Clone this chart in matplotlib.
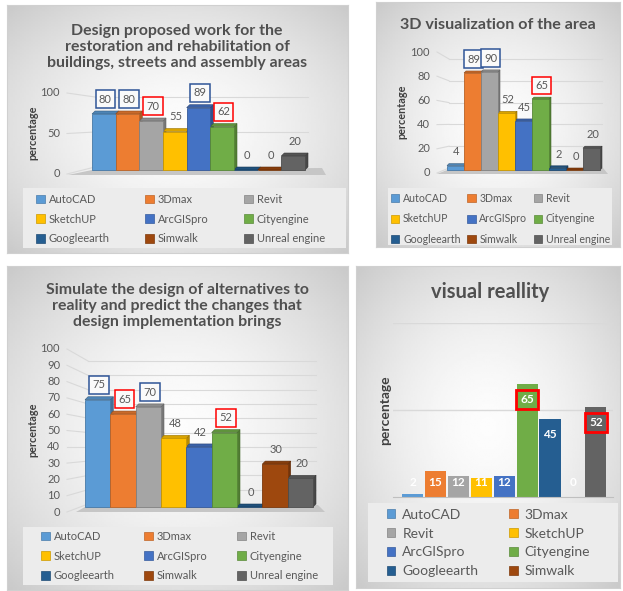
import numpy as np
import matplotlib

matplotlib.use("Agg")
import matplotlib.pyplot as plt
from matplotlib.colors import to_rgb
from matplotlib.patches import Patch, Polygon, Rectangle

plt.rcParams["font.family"] = ["Lato", "DejaVu Sans"]

W, H = 623, 591

TOOLS = ["AutoCAD", "3Dmax", "Revit", "SketchUP", "ArcGISpro", "Cityengine",
         "Googleearth", "Simwalk", "Unreal engine"]
COLORS = ["#5B9BD5", "#ED7D31", "#A5A5A5", "#FFC000", "#4472C4", "#70AD47",
          "#255E91", "#9E480E", "#636363"]

# panel 1: design proposed work
design_vals = [80, 80, 70, 55, 89, 62, 0, 0, 20]
design_blue = [0, 1, 4]
design_red = [2, 5]

# panel 2: 3D visualization
area3d_vals = [4, 89, 90, 52, 45, 65, 2, 0, 20]
area3d_blue = [1, 2]
area3d_red = [5]

# panel 3: simulate alternatives
simulate_vals = [75, 65, 70, 48, 42, 52, 0, 30, 20]
simulate_blue = [0, 2]
simulate_red = [1, 5]

# panel 4: visual reality
reality_vals = [2, 15, 12, 11, 12, 65, 45, 0, 52]
reality_red = [5, 8]

TEXT = "#595959"
TITLE = "#505050"
GRID = "#d9d9d9"
BOX_BLUE = "#2f5597"
BOX_RED = "#ff0000"

fig = plt.figure(figsize=(W / 100, H / 100), dpi=100)


def rect(x0, y0, x1, y1):
    return [x0 / W, 1 - y1 / H, (x1 - x0) / W, (y1 - y0) / H]


def fx(x):
    return x / W


def fy(y):
    return 1 - y / H


def panel(x0, y0, x1, y1):
    bg = fig.add_axes(rect(x0, y0, x1, y1), zorder=0)
    yy, xx = np.mgrid[-1:1:150j, -1:1:150j]
    r = np.hypot(xx, yy) / np.sqrt(2)
    bg.imshow(0.99 - 0.2 * r ** 1.6, cmap="gray", vmin=0, vmax=1,
              extent=[0, 1, 0, 1], aspect="auto", interpolation="bilinear")
    bg.set_xticks([])
    bg.set_yticks([])
    for s in bg.spines.values():
        s.set_color("#d0d0d0")
        s.set_linewidth(0.8)


def chart3d(ax_px, vals, blue, red, ticks, front, lab_x, floor_px, depth=(3, 3)):
    x0, y0, x1, y1 = ax_px
    ax = fig.add_axes(rect(*ax_px), zorder=2)
    ax.set_xlim(-0.5, 8.5)
    ax.set_ylim(0, 100)
    ax.set_axis_off()
    dx = depth[0] / ((x1 - x0) / 9.0)
    dy = depth[1] / ((y1 - y0) / 100.0)
    inv = ax.transData.inverted()

    def d(px, py):
        return inv.transform((px, H - py))

    ax.add_patch(Polygon([d(*p) for p in floor_px], closed=True, fc="#c6c6c6",
                         ec="none", zorder=1, clip_on=False))

    # back-wall grid and the side-wall lines running out to the tick labels
    gx0, gx1 = -0.5 + dx, 8.5 + dx
    for t in ticks:
        if t > 0:
            ax.plot([gx0, gx1], [t + dy, t + dy], color=GRID, lw=0.8, zorder=0.5,
                    clip_on=False)
        py = front[0] + (front[1] - front[0]) * t / 100
        lx, ly = d(lab_x, py)
        sx, _ = d(lab_x + 7, py)
        ax.plot([sx, gx0], [ly, t + dy], color=GRID, lw=0.8, zorder=0.5, clip_on=False)
        ax.text(lx, ly, str(t), ha="right", va="center", fontsize=8, color=TEXT)

    for i, v in enumerate(vals):
        c = np.array(to_rgb(COLORS[i]))
        xr = i + 0.5
        ax.add_patch(Polygon([(xr, 0), (xr + dx, dy), (xr + dx, v + dy), (xr, v)],
                             fc=c * 0.72, ec=c * 0.6, lw=0.4, zorder=2, clip_on=False))
        ax.add_patch(Polygon([(i - 0.5, v), (i - 0.5 + dx, v + dy), (xr + dx, v + dy), (xr, v)],
                             fc=c * 0.85, ec=c * 0.6, lw=0.4, zorder=2, clip_on=False))
    ax.bar(range(9), vals, width=1.0, color=COLORS,
           edgecolor=[np.array(to_rgb(c)) * 0.78 for c in COLORS], lw=0.6,
           zorder=3, clip_on=False)

    for i, v in enumerate(vals):
        ec = BOX_BLUE if i in blue else BOX_RED if i in red else None
        bbox = dict(boxstyle="square,pad=0.3", fc="#fafafa", ec=ec, lw=1.1) if ec else None
        ax.annotate(str(v), (i + dx / 2, v + dy), xytext=(0, 8.5), textcoords="offset points",
                    ha="center", va="center", fontsize=8, color=TEXT, bbox=bbox,
                    zorder=5, annotation_clip=False)
    return ax


def legend(ncol, box_px, anchor_px, fontsize, spacing, hsize, n=9, textpad=0.35):
    bx0, by0, bx1, by1 = box_px
    fig.patches.append(Rectangle((fx(bx0), fy(by1)), (bx1 - bx0) / W, (by1 - by0) / H,
                                 transform=fig.transFigure, fc="#ececec", ec="none",
                                 zorder=1))
    nrows = -(-n // ncol)
    # legend fills column by column; reorder so entries read row by row
    order = [r * ncol + c for c in range(ncol) for r in range(nrows) if r * ncol + c < n]
    handles = [Patch(fc=COLORS[k], ec=np.array(to_rgb(COLORS[k])) * 0.8, lw=0.5) for k in order]
    labels = [TOOLS[k] for k in order]
    ax0, ax1, yc = anchor_px
    fig.legend(handles, labels, ncol=ncol, loc="center",
               bbox_to_anchor=(fx(ax0), fy(yc), (ax1 - ax0) / W, 0), mode="expand",
               frameon=False, fontsize=fontsize, labelspacing=spacing,
               handlelength=hsize, handleheight=hsize, handletextpad=textpad,
               borderpad=0, borderaxespad=0, labelcolor=TEXT)


# ---------------- panel 1 ----------------
panel(7, 5, 348, 253)
fig.text(fx(177), fy(47), "Design proposed work for the\nrestoration and rehabilitation of\n"
         "buildings, streets and assembly areas", ha="center", va="center",
         fontsize=11.4, fontweight="bold", color=TITLE, linespacing=1.2)
chart3d((92, 100, 305, 170), design_vals, design_blue, design_red, [0, 50, 100],
        (174, 93), 60, [(92, 170), (322, 168), (326, 175), (68, 175)])
fig.text(fx(33), fy(133), "percentage", rotation=90, ha="center", va="center",
         fontsize=7.8, fontweight="bold", color="#404040")
legend(3, (23, 188, 346, 248), (36, 325, 219), 8, 0.8, 0.8)

# ---------------- panel 2 ----------------
panel(376, 2, 620, 247)
fig.text(fx(498), fy(25), "3D visualization of the area", ha="center", va="center",
         fontsize=11.6, fontweight="bold", color=TITLE)
chart3d((447, 61, 600, 170), area3d_vals, area3d_blue, area3d_red,
        [0, 20, 40, 60, 80, 100], (173, 52), 430,
        [(447, 170), (603, 168), (608, 174), (437, 174)], depth=(2, 2))
fig.text(fx(402), fy(112), "percentage", rotation=90, ha="center", va="center",
         fontsize=7.8, fontweight="bold", color="#404040")
legend(3, (388, 188, 612, 245), (391, 610, 219), 7.6, 0.9, 0.8)

# ---------------- panel 3 ----------------
panel(7, 266, 348, 590)
fig.text(fx(177), fy(306), "Simulate the design of alternatives to\nreality and predict the changes that\n"
         "design implementation brings", ha="center", va="center",
         fontsize=11.4, fontweight="bold", color=TITLE, linespacing=1.2)
chart3d((85, 364, 313, 507), simulate_vals, simulate_blue, simulate_red,
        list(range(0, 101, 10)), (512, 349), 60,
        [(85, 507), (318, 505), (325, 512), (76, 512)])
fig.text(fx(33), fy(430), "percentage", rotation=90, ha="center", va="center",
         fontsize=7.8, fontweight="bold", color="#404040")
legend(3, (23, 527, 333, 585), (41, 318, 556), 8, 0.8, 0.8)

# ---------------- panel 4 ----------------
panel(356, 266, 620, 588)
fig.text(fx(490), fy(292), "visual reallity", ha="center", va="center",
         fontsize=14.5, fontweight="bold", color=TITLE)
ax4 = fig.add_axes(rect(393, 323, 613, 497), zorder=2)
ax4.patch.set_visible(False)
ax4.set_xlim(-0.85, 8.75)
ax4.set_ylim(0, 100)
ax4.set_yticks([50, 100])
ax4.set_xticks([])
ax4.yaxis.grid(True, color=GRID, lw=1)
ax4.set_axisbelow(True)
ax4.tick_params(left=False, labelleft=False, bottom=False)
for s in ["top", "right", "left"]:
    ax4.spines[s].set_visible(False)
ax4.spines["bottom"].set_color("#bfbfbf")
ax4.bar(range(9), reality_vals, width=0.92, color=COLORS)
for i, v in enumerate(reality_vals):
    bbox = dict(boxstyle="square,pad=0.35", fc="none", ec=BOX_RED, lw=2) if i in reality_red else None
    ax4.text(i, max(v - 9, 8.5), str(v), ha="center", va="center", fontsize=8.5,
             fontweight="bold", color="white", bbox=bbox)
fig.text(fx(385), fy(410), "percentage", rotation=90, ha="center", va="center",
         fontsize=10, fontweight="bold", color="#404040")
legend(2, (368, 503, 618, 582), (387, 590, 543), 10, 0.5, 0.6, n=8, textpad=0.5)

fig.savefig("out.png", dpi=100)
